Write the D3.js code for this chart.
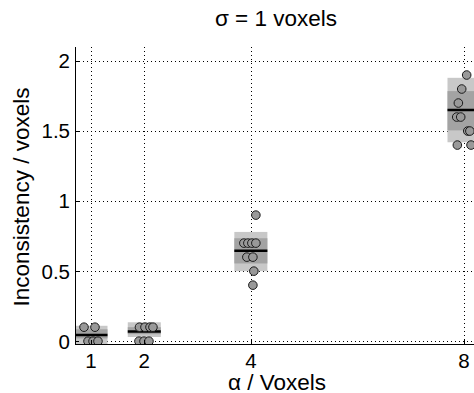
<!DOCTYPE html>
<html>
<head>
<meta charset="utf-8">
<script src="https://cdn.jsdelivr.net/npm/d3@7"></script>
<style>
  body { margin: 0; background: #fff; }
  text { font-family: "Liberation Sans", Arial, sans-serif; fill: #000; }
</style>
</head>
<body>
<svg id="chart" width="474" height="393"></svg>
<script>
// alpha groups and their summary values
var alphas = [1, 2, 4, 8];
var means = [0.045, 0.07, 0.645, 1.65];
var sdLo = [-0.02, 0.03, 0.5, 1.42];
var sdHi = [0.11, 0.135, 0.78, 1.88];
var ciLo = [0.02, 0.05, 0.555, 1.505];
var ciHi = [0.085, 0.1, 0.735, 1.785];

// individual runs (alpha with a little jitter, inconsistency)
var pointAlpha = [
  0.869, 1.075, 0.944, 1.038, 1.131,
  1.91, 2.013, 2.107, 2.163, 1.90, 1.994, 2.088,
  4.094, 3.869, 3.944, 4.019, 4.094, 3.925, 4.038, 4.056, 4.038,
  8.05, 7.957, 7.894, 7.863, 7.938, 8.07, 8.11, 7.875, 8.131
];
var pointValue = [
  0.1, 0.1, 0, 0, 0,
  0.1, 0.1, 0.1, 0.1, 0, 0, 0,
  0.9, 0.7, 0.7, 0.7, 0.7, 0.6, 0.6, 0.5, 0.4,
  1.9, 1.8, 1.7, 1.6, 1.6, 1.5, 1.5, 1.4, 1.4
];

var xTicks = [1, 2, 4, 8];
var yTicks = [0, 0.5, 1, 1.5, 2];
var yTickLabels = ["0", "0.5", "1", "1.5", "2"];

(function () {
  var svg = d3.select("#chart");
  var mLeft = 75, mRight = 480, mTop = 47, mBottom = 344;

  var x = d3.scaleLinear().domain([0.7, 8.3]).range([mLeft, mRight]);
  var y = d3.scaleLinear().domain([-0.02, 2.1]).range([mBottom, mTop]);

  svg.append("defs").append("clipPath").attr("id", "plot")
    .append("rect").attr("x", mLeft).attr("y", mTop)
    .attr("width", mRight - mLeft).attr("height", mBottom - mTop);

  // dotted grid
  var grid = svg.append("g").attr("stroke", "#000").attr("stroke-width", 1)
    .attr("stroke-dasharray", "1,3");
  grid.selectAll(".gy").data(yTicks).enter().append("line")
    .attr("x1", mLeft).attr("x2", mRight)
    .attr("y1", d => Math.round(y(d)) + 0.5).attr("y2", d => Math.round(y(d)) + 0.5);
  grid.selectAll(".gx").data(xTicks).enter().append("line")
    .attr("x1", d => Math.round(x(d)) + 0.5).attr("x2", d => Math.round(x(d)) + 0.5)
    .attr("y1", mTop).attr("y2", mBottom);

  var half = 0.31; // box half width in alpha units
  var boxes = svg.append("g").attr("clip-path", "url(#plot)");
  alphas.forEach(function (a, i) {
    boxes.append("rect")
      .attr("x", x(a - half)).attr("width", x(a + half) - x(a - half))
      .attr("y", y(sdHi[i])).attr("height", y(sdLo[i]) - y(sdHi[i]))
      .attr("fill", "#c8c8c8");
    boxes.append("rect")
      .attr("x", x(a - half)).attr("width", x(a + half) - x(a - half))
      .attr("y", y(ciHi[i])).attr("height", y(ciLo[i]) - y(ciHi[i]))
      .attr("fill", "#a3a3a3");
    boxes.append("line")
      .attr("x1", x(a - half)).attr("x2", x(a + half))
      .attr("y1", y(means[i])).attr("y2", y(means[i]))
      .attr("stroke", "#000").attr("stroke-width", 2.5);
  });

  boxes.selectAll("circle").data(pointValue).enter().append("circle")
    .attr("cx", (d, i) => x(pointAlpha[i]))
    .attr("cy", d => y(d))
    .attr("r", 4.3)
    .attr("fill", "#999999")
    .attr("stroke", "#1a1a1a")
    .attr("stroke-width", 1);

  // axes
  var ax = svg.append("g").attr("stroke", "#000").attr("stroke-width", 1);
  ax.append("line").attr("x1", mLeft + 0.5).attr("x2", mLeft + 0.5).attr("y1", mTop).attr("y2", mBottom + 0.5);
  ax.append("line").attr("x1", mLeft).attr("x2", mRight).attr("y1", mBottom + 0.5).attr("y2", mBottom + 0.5);
  ax.selectAll(".ty").data(yTicks).enter().append("line")
    .attr("x1", mLeft).attr("x2", mLeft + 4)
    .attr("y1", d => Math.round(y(d)) + 0.5).attr("y2", d => Math.round(y(d)) + 0.5);
  ax.selectAll(".tx").data(xTicks).enter().append("line")
    .attr("x1", d => Math.round(x(d)) + 0.5).attr("x2", d => Math.round(x(d)) + 0.5)
    .attr("y1", mBottom).attr("y2", mBottom - 4);

  var fs = 20.5, lfs = 22.5;
  svg.selectAll(".ly").data(yTicks).enter().append("text")
    .attr("x", mLeft - 5).attr("y", d => y(d))
    .attr("dy", "0.36em").attr("text-anchor", "end")
    .style("font-size", fs + "px")
    .text((d, i) => yTickLabels[i]);

  svg.selectAll(".lx").data(xTicks).enter().append("text")
    .attr("x", d => x(d)).attr("y", 368)
    .attr("text-anchor", "middle")
    .style("font-size", fs + "px")
    .text(d => d);

  svg.append("text").attr("x", 277).attr("y", 390).attr("text-anchor", "middle")
    .style("font-size", lfs + "px").text("α / Voxels");

  svg.append("text").attr("transform", "translate(29,197) rotate(-90)")
    .attr("text-anchor", "middle").style("font-size", lfs + "px")
    .text("Inconsistency / voxels");

  svg.append("text").attr("x", 276).attr("y", 26).attr("text-anchor", "middle")
    .style("font-size", lfs + "px").text("σ = 1 voxels");
})();
</script>
</body>
</html>
